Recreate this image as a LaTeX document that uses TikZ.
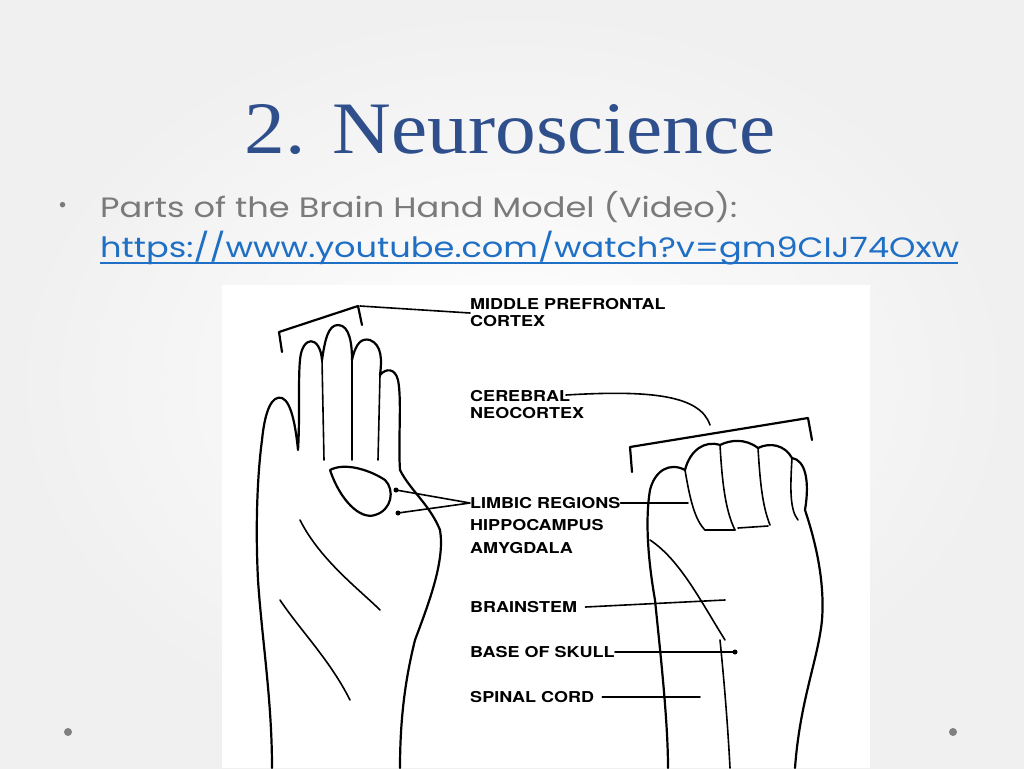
\documentclass[tikz,border=0pt]{standalone}
\usepackage{fontspec}
\setmainfont{TeX Gyre Heros}
\newfontfamily\titlefont{Liberation Serif}
\newfontfamily\bodyfont{Poppins}
\definecolor{titleblue}{HTML}{2E4E8C}
\definecolor{bodygray}{HTML}{7A7A7A}
\definecolor{linkblue}{HTML}{1F6FC5}
\begin{document}
\begin{tikzpicture}[x=1pt,y=-1pt,
  lab/.style={anchor=west,font=\fontsize{15}{17}\selectfont\bfseries,inner sep=0pt,align=left,xscale=1.2},
  ink/.style={line width=2.2pt,line join=round,line cap=round},
  thin/.style={line width=1.6pt,line cap=round}]
\useasboundingbox (0,0) rectangle (1024,768);
\shade[inner color=white,outer color=gray!12] (0,0) rectangle (1024,768);
\node[xscale=1.1] (title) at (510,130) {\titlefont\fontsize{74}{76}\selectfont\color{titleblue}2. Neuroscience};
\node[anchor=west,inner sep=0pt] (bul) at (58,207) {\bodyfont\fontsize{22}{24}\selectfont\color{bodygray}•};
\node[anchor=west,inner sep=0pt,xscale=1.2] (t1) at (100,207) {\bodyfont\fontsize{28}{30}\selectfont\color{bodygray}Parts of the Brain Hand Model (Video):};
\node[anchor=west,inner sep=0pt,xscale=1.2] (t2) at (100,248) {\bodyfont\fontsize{28}{30}\selectfont\color{linkblue}https://www.youtube.com/watch?v=gm9CIJ74Oxw};
\draw[linkblue,line width=1.3pt] (100,263) -- (958,263);
\fill[gray] (68,732) circle (4);
\fill[gray] (953,732) circle (4);
% image
\fill[white] (222,285) rectangle (870,768);
% left open hand
\draw[ink] (272,768) .. controls (272,700) and (262,640) .. (258,580)
  .. controls (255,520) and (258,470) .. (262,440)
  .. controls (265,410) and (272,395) .. (282,398)
  .. controls (292,402) and (296,430) .. (298,450)
  .. controls (300,420) and (298,380) .. (300,360)
  .. controls (302,335) and (320,335) .. (322,360)
  .. controls (325,340) and (328,325) .. (338,325)
  .. controls (350,325) and (352,345) .. (352,360)
  .. controls (356,342) and (362,338) .. (370,340)
  .. controls (382,345) and (382,360) .. (380,375)
  .. controls (386,368) and (395,368) .. (398,380)
  .. controls (402,400) and (398,440) .. (400,470)
  .. controls (410,490) and (430,505) .. (440,530)
  .. controls (445,560) and (430,600) .. (415,640)
  .. controls (405,680) and (400,720) .. (400,768);
\draw[thin] (322,360) -- (324,460);
\draw[thin] (352,360) -- (352,460);
\draw[thin] (380,375) -- (378,460);
\draw[ink] (330,470) .. controls (345,462) and (370,470) .. (385,480)
  .. controls (395,490) and (392,510) .. (375,515)
  .. controls (360,520) and (340,500) .. (330,470);
\draw[thin] (300,520) .. controls (320,560) and (360,590) .. (380,610);
\draw[thin] (280,600) .. controls (300,630) and (330,660) .. (350,700);
% right fist
\draw[ink] (668,768) .. controls (668,720) and (660,650) .. (655,600)
  .. controls (648,560) and (645,520) .. (650,490)
  .. controls (655,470) and (670,462) .. (685,470)
  .. controls (690,450) and (705,440) .. (720,445)
  .. controls (730,440) and (745,438) .. (758,448)
  .. controls (770,442) and (785,445) .. (792,458)
  .. controls (805,460) and (810,480) .. (805,510)
  .. controls (815,540) and (825,580) .. (822,620)
  .. controls (818,660) and (800,700) .. (795,768);
\draw[thin] (685,470) .. controls (690,500) and (695,520) .. (705,530);
\draw[thin] (720,445) .. controls (722,480) and (725,510) .. (735,530);
\draw[thin] (758,448) .. controls (760,480) and (762,505) .. (770,525);
\draw[thin] (792,458) .. controls (790,490) and (790,510) .. (798,520);
\draw[thin] (705,530) -- (735,530) (738,528) -- (768,526);
\draw[thin] (650,540) .. controls (680,560) and (700,600) .. (725,640);
\draw[thin] (720,640) .. controls (725,690) and (728,730) .. (730,768);
% brackets and leaders
\coordinate (b1) at (360,306);
\draw[ink] (282,352) -- (279,332) -- (358,306) -- (362,325);
\node[lab] (mpc) at (470,313) {MIDDLE PREFRONTAL\\CORTEX};
\draw[thin] (b1) -- (mpc.west);
\draw[ink] (632,472) -- (630,447) -- (808,418) -- (812,440);
\node[lab] (neo) at (470,405) {CEREBRAL\\NEOCORTEX};
\coordinate (neoTo) at (710,425);
\draw[thin] (566,395) .. controls (650,390) and (700,395) .. (neoTo);
\node[lab] (lim) at (470,503) {LIMBIC REGIONS};
\node[lab] (hip) at (470,525) {HIPPOCAMPUS};
\node[lab] (amy) at (470,548) {AMYGDALA};
\coordinate (p1) at (396,490);
\coordinate (p2) at (398,513);
\draw[thin] (lim.west) -- (p1) (lim.west) -- (p2);
\fill (p1) circle (2.5) (p2) circle (2.5);
\coordinate (p3) at (688,503);
\draw[thin] (lim.east) -- (p3);
\node[lab] (bs) at (470,607) {BRAINSTEM};
\coordinate (p4) at (725,600);
\draw[thin] (bs.east) ++(8,0) -- (p4);
\node[lab] (sk) at (470,652) {BASE OF SKULL};
\coordinate (p5) at (735,652);
\draw[thin] (sk.east) -- (p5); \fill (p5) circle (2.5);
\node[lab] (sc) at (470,697) {SPINAL CORD};
\coordinate (p6) at (700,697);
\draw[thin] (sc.east) ++(8,0) -- (p6);
\end{tikzpicture}
\end{document}
